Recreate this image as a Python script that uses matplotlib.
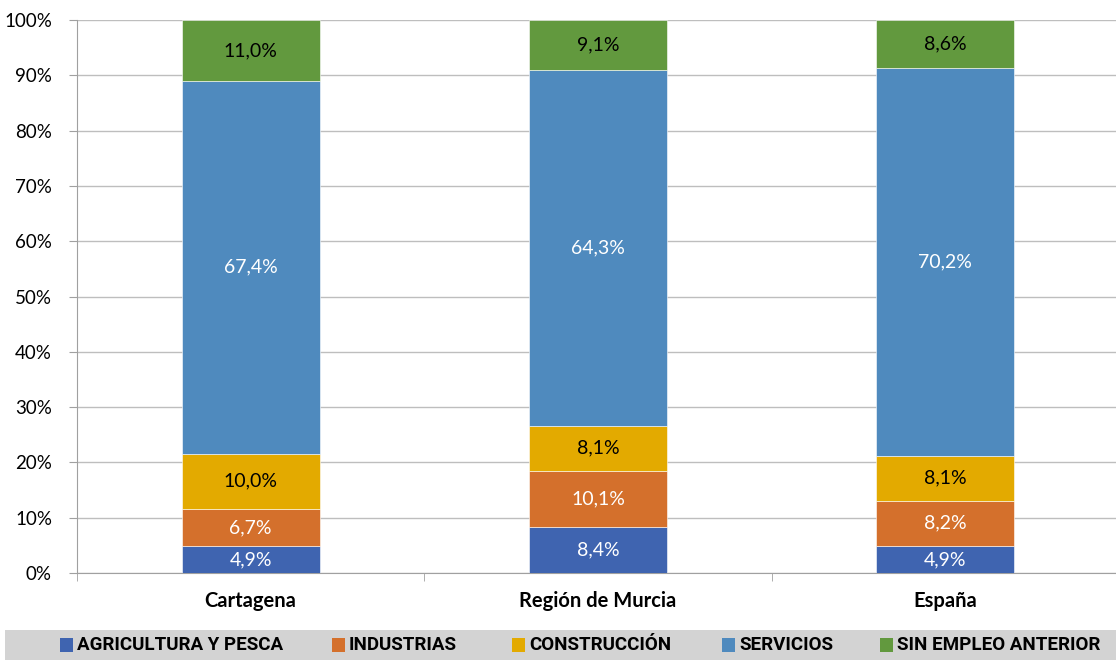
import numpy as np
import matplotlib.pyplot as plt
from matplotlib.patches import Rectangle
from matplotlib.ticker import FixedLocator

categories = ["Cartagena", "Región de Murcia", "España"]
series_names = ["AGRICULTURA Y PESCA", "INDUSTRIAS", "CONSTRUCCIÓN", "SERVICIOS", "SIN EMPLEO ANTERIOR"]
agricultura = [4.9, 8.4, 4.9]
industrias = [6.7, 10.1, 8.2]
construccion = [10.0, 8.1, 8.1]
servicios = [67.4, 64.3, 70.2]
sin_empleo = [11.0, 9.1, 8.6]

colors = ["#3F64B0", "#D4702C", "#E3AA00", "#4F8ABE", "#62993E"]
label_colors = ["white", "white", "black", "white", "black"]

plt.rcParams['font.family'] = ['Lato', 'DejaVu Sans']

fig = plt.figure(figsize=(11.16, 6.6), dpi=100)
ax = fig.add_axes([77 / 1116, 1 - 573 / 660, 1042 / 1116, 553 / 660])

x = np.arange(len(categories))
bottom = np.zeros(len(categories))
for vals, name, col, lc in zip([agricultura, industrias, construccion, servicios, sin_empleo],
                               series_names, colors, label_colors):
    vals = np.array(vals)
    ax.bar(x, vals, 0.397, bottom=bottom, color=col, label=name, zorder=3,
           edgecolor="white", linewidth=0.4)
    for xi, v, bt in zip(x, vals, bottom):
        ax.text(xi, bt + v / 2, f"{v:.1f}".replace(".", ",") + "%", ha="center", va="center",
                color=lc, fontsize=14, zorder=4)
    bottom += vals

ax.set_xlim(-0.5, 2.5)
ax.set_ylim(0, 100)
ax.set_yticks(np.arange(0, 101, 10))
ax.set_yticklabels([f"{v}%" for v in range(0, 101, 10)], fontsize=13.5)
ax.set_xticks(x)
ax.set_xticklabels(categories, fontsize=14.5, fontweight="bold")
ax.tick_params(axis="x", length=0, pad=13)
ax.xaxis.set_minor_locator(FixedLocator([-0.5, 0.5, 1.5]))
ax.tick_params(axis="x", which="minor", length=6, color="#A0A0A0", direction="out")
ax.tick_params(axis="y", length=6, color="#A0A0A0", pad=12)
ax.grid(axis="y", color="#BEBEBE", linewidth=1, zorder=0)
for s in ["top", "right"]:
    ax.spines[s].set_visible(False)
for s in ["left", "bottom"]:
    ax.spines[s].set_color("#A0A0A0")

# grey legend band with manually placed entries
W, H = 1116, 660
fig.patches.append(Rectangle((5 / W, 0), 1, 30 / H, transform=fig.transFigure,
                             facecolor="#D3D3D3", edgecolor="none", zorder=0))
square_x = [60, 332, 512, 722, 880]
ly = 15 / H
for sx, name, col in zip(square_x, series_names, colors):
    fig.patches.append(Rectangle((sx / W, ly - 7 / H), 13 / W, 14 / H,
                                 transform=fig.transFigure, facecolor=col,
                                 edgecolor="none", zorder=1))
    fig.text((sx + 17) / W, ly, name, ha="left", va="center", fontsize=13.5,
             fontweight="bold", family=["Roboto", "DejaVu Sans"], color="black")

fig.savefig("out.png", dpi=100)
